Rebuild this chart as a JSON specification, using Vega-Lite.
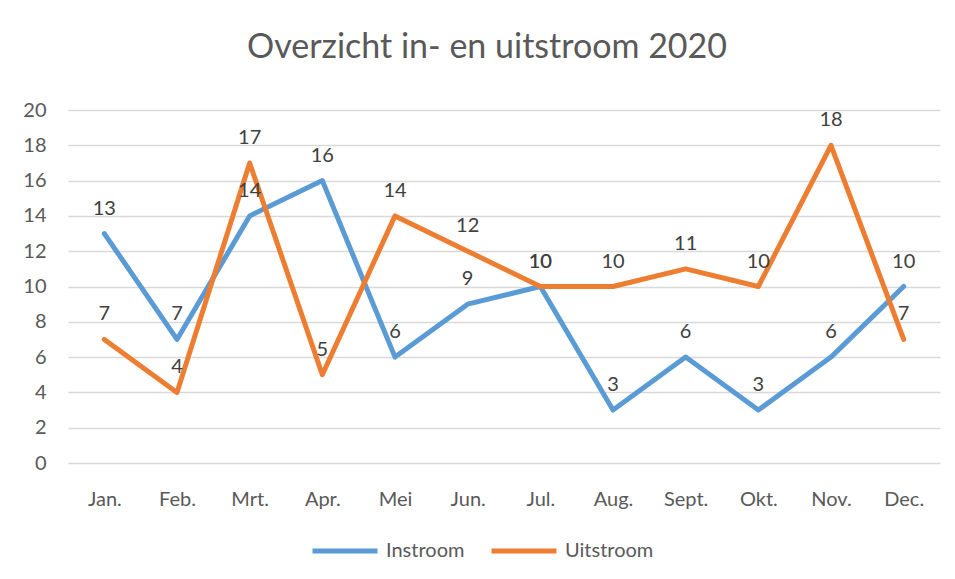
{
  "$schema": "https://vega.github.io/schema/vega-lite/v6.json",
  "width": 872,
  "height": 353,
  "autosize": {"type": "none"},
  "padding": {"left": 68, "top": 110, "right": 15, "bottom": 116},
  "background": "white",
  "title": {
    "text": "Overzicht in- en uitstroom 2020",
    "font": "Lato",
    "fontSize": 34,
    "fontWeight": "normal",
    "color": "#595959",
    "anchor": "middle",
    "dx": -17,
    "offset": 35
  },
  "config": {
    "view": {"stroke": null},
    "font": "Lato"
  },
  "data": {
    "values": [
      {"month": "Jan.", "series": "Instroom", "value": 13},
      {"month": "Feb.", "series": "Instroom", "value": 7},
      {"month": "Mrt.", "series": "Instroom", "value": 14},
      {"month": "Apr.", "series": "Instroom", "value": 16},
      {"month": "Mei", "series": "Instroom", "value": 6},
      {"month": "Jun.", "series": "Instroom", "value": 9},
      {"month": "Jul.", "series": "Instroom", "value": 10},
      {"month": "Aug.", "series": "Instroom", "value": 3},
      {"month": "Sept.", "series": "Instroom", "value": 6},
      {"month": "Okt.", "series": "Instroom", "value": 3},
      {"month": "Nov.", "series": "Instroom", "value": 6},
      {"month": "Dec.", "series": "Instroom", "value": 10},
      {"month": "Jan.", "series": "Uitstroom", "value": 7},
      {"month": "Feb.", "series": "Uitstroom", "value": 4},
      {"month": "Mrt.", "series": "Uitstroom", "value": 17},
      {"month": "Apr.", "series": "Uitstroom", "value": 5},
      {"month": "Mei", "series": "Uitstroom", "value": 14},
      {"month": "Jun.", "series": "Uitstroom", "value": 12},
      {"month": "Jul.", "series": "Uitstroom", "value": 10},
      {"month": "Aug.", "series": "Uitstroom", "value": 10},
      {"month": "Sept.", "series": "Uitstroom", "value": 11},
      {"month": "Okt.", "series": "Uitstroom", "value": 10},
      {"month": "Nov.", "series": "Uitstroom", "value": 18},
      {"month": "Dec.", "series": "Uitstroom", "value": 7}
    ]
  },
  "encoding": {
    "x": {
      "field": "month",
      "type": "ordinal",
      "sort": ["Jan.", "Feb.", "Mrt.", "Apr.", "Mei", "Jun.", "Jul.", "Aug.", "Sept.", "Okt.", "Nov.", "Dec."],
      "scale": {"type": "point", "padding": 0.5},
      "axis": {
        "title": null,
        "labelAngle": 0,
        "labelFontSize": 20,
        "labelColor": "#595959",
        "labelPadding": 26,
        "ticks": false,
        "domain": false,
        "grid": false
      }
    },
    "y": {
      "field": "value",
      "type": "quantitative",
      "scale": {"domain": [0, 20]},
      "axis": {
        "title": null,
        "values": [0, 2, 4, 6, 8, 10, 12, 14, 16, 18, 20],
        "labelFontSize": 20,
        "labelColor": "#595959",
        "labelPadding": 22,
        "ticks": false,
        "domain": false,
        "grid": true,
        "gridColor": "#D9D9D9",
        "gridWidth": 1.5
      }
    },
    "color": {
      "field": "series",
      "type": "nominal",
      "scale": {"domain": ["Instroom", "Uitstroom"], "range": ["#5B9BD5", "#ED7D31"]},
      "legend": {
        "title": null,
        "orient": "none",
        "direction": "horizontal",
        "legendX": 242,
        "legendY": 406,
        "symbolType": "stroke",
        "symbolSize": 4225,
        "symbolStrokeWidth": 5,
        "labelFontSize": 20,
        "labelColor": "#595959",
        "columnPadding": 16,
        "labelOffset": 6
      }
    }
  },
  "layer": [
    {
      "mark": {"type": "line", "strokeWidth": 5, "strokeCap": "round", "strokeJoin": "round"}
    },
    {
      "mark": {"type": "text", "fontSize": 20, "color": "#404040", "baseline": "alphabetic", "dy": -19},
      "encoding": {
        "text": {"field": "value", "type": "quantitative"},
        "color": {"value": "#404040"}
      }
    }
  ]
}
